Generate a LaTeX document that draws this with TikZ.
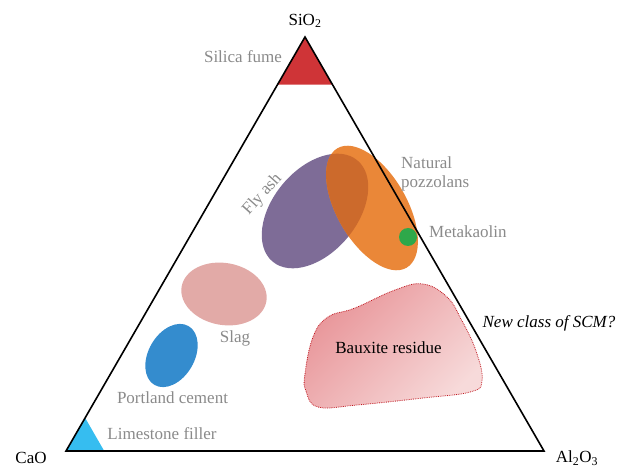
\documentclass[tikz,border=0pt]{standalone}
\usepackage{fontspec}
\setmainfont{Liberation Serif}
\usetikzlibrary{calc}
\definecolor{silicared}{RGB}{207,52,55}
\definecolor{limeblue}{RGB}{54,189,240}
\definecolor{flypurple}{RGB}{126,108,151}
\definecolor{pozzorange}{RGB}{234,135,56}
\definecolor{overorange}{RGB}{204,106,44}
\definecolor{kaolgreen}{RGB}{46,168,74}
\definecolor{slagpink}{RGB}{226,170,167}
\definecolor{opcblue}{RGB}{52,140,206}
\definecolor{bxdark}{RGB}{232,148,152}
\definecolor{bxlight}{RGB}{247,218,218}
\definecolor{bxedge}{RGB}{192,26,34}
\definecolor{lblgray}{RGB}{138,138,138}
\tikzset{
  lbl/.style={text=lblgray, inner sep=0pt},
  oxide/.style={text=black, inner sep=0pt},
}

\begin{document}
\begin{tikzpicture}[x=1pt, y=1pt, font=\fontsize{17}{19}\selectfont]
    \useasboundingbox (0,0) rectangle (622,469);
    % corners of the ternary diagram
    \coordinate (CaO) at (66,18); \coordinate (Al) at (544,18); \coordinate (Si) at (305,432);
    % pure silica and pure lime corners
    \fill[silicared] (Si) -- ($(Si)!0.115!(CaO)$) -- ($(Si)!0.115!(Al)$) -- cycle;
    \fill[limeblue] (CaO) -- ($(CaO)!0.08!(Al)$) -- ($(CaO)!0.08!(Si)$) -- cycle;
    % material fields
    \fill[slagpink, rotate around={-10:(224,175)}] (224,175) ellipse [x radius=43, y radius=31];
    \fill[opcblue, rotate around={60:(171.5,113.5)}] (171.5,113.5) ellipse [x radius=34, y radius=23];
    \fill[flypurple, rotate around={50:(315,258)}] (315,258) ellipse [x radius=66, y radius=42];
    \fill[pozzorange, rotate around={-60:(372,261)}] (372,261) ellipse [x radius=69, y radius=35];
    \begin{scope}
        \clip[rotate around={50:(315,258)}] (315,258) ellipse [x radius=66, y radius=42];
        \fill[overorange, rotate around={-60:(372,261)}] (372,261) ellipse [x radius=69, y radius=35];
    \end{scope}
    \path[draw=bxedge, densely dotted, line width=0.8pt, top color=bxdark, bottom color=bxlight, shading angle=45]
        plot[smooth cycle, tension=0.7] coordinates {(423,185) (447,172) (461,150) (476,118) (482,88) (470,77) (423,71) (357,64) (318,62) (306,78) (305,95) (313,132) (328,152) (355,161) (395,179)};
    \draw[line width=1.6pt] (CaO) -- (Al) -- (Si) -- cycle;
    \fill[kaolgreen] (408,232) circle [radius=9];
    % labels
    \node[oxide] (SiO2) at (305,448) {SiO\textsubscript{2}};
    \node[oxide] (CaOl) at (31,11.5) {CaO};
    \node[oxide] (Al2O3) at (577,11) {Al\textsubscript{2}O\textsubscript{3}};
    \node[lbl] (sf) at (243,412.5) {Silica fume};
    \node[lbl, anchor=west, align=left] (np) at (401,295.5) {Natural\\pozzolans};
    \node[lbl, anchor=west] (mk) at (429,237.5) {Metakaolin};
    \node[lbl, rotate=48] (fa) at (262.5,274.5) {Fly ash};
    \node[lbl] (sl) at (235,131) {Slag};
    \node[lbl] (pc) at (172.5,71) {Portland cement};
    \node[lbl] (lf) at (162,35.5) {Limestone filler};
    \node[oxide] (br) at (388.5,121) {Bauxite residue};
    \node[oxide] (scm) at (549,146) {\itshape New class of SCM?};
\end{tikzpicture}
\end{document}
